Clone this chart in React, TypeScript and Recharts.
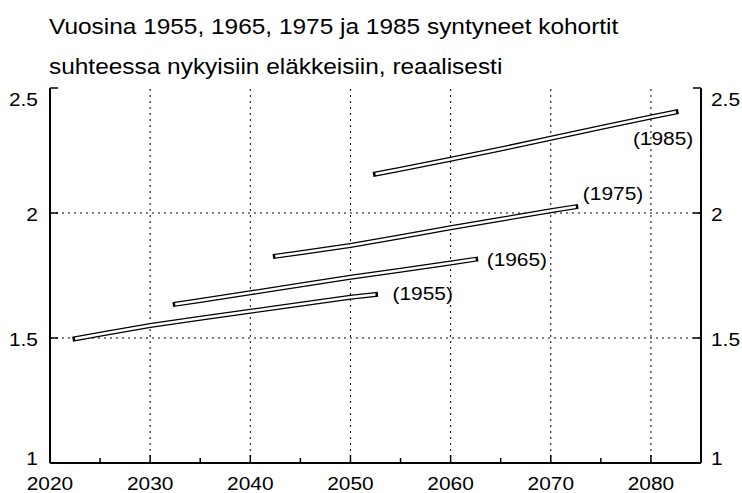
import React from "react";
import { Line, LineChart, ReferenceDot, ReferenceLine, XAxis, YAxis } from "recharts";

// cohort lines: [year, ratio to current pensions]
const cohort1955 = [
  [2022.5, 1.497], [2025, 1.515], [2030, 1.55], [2035, 1.579], [2040, 1.607],
  [2045, 1.635], [2050, 1.663], [2052.5, 1.674],
];
const cohort1965 = [
  [2032.5, 1.635], [2035, 1.65], [2040, 1.681], [2045, 1.712], [2050, 1.743],
  [2055, 1.771], [2060, 1.8], [2062.5, 1.815],
];
const cohort1975 = [
  [2042.5, 1.827], [2045, 1.841], [2050, 1.87], [2055, 1.905], [2060, 1.941],
  [2065, 1.975], [2070, 2.009], [2072.5, 2.025],
];
const cohort1985 = [
  [2052.5, 2.156], [2055, 2.175], [2060, 2.215], [2065, 2.256], [2070, 2.299],
  [2075, 2.342], [2080, 2.384], [2082.5, 2.404],
];

const SERIES = [
  { name: "1955", points: cohort1955 },
  { name: "1965", points: cohort1965 },
  { name: "1975", points: cohort1975 },
  { name: "1985", points: cohort1985 },
];

// label anchors (left edge, vertical centre) in data units
const LABELS = [
  { text: "(1955)", year: 2054.2, value: 1.678 },
  { text: "(1965)", year: 2063.6, value: 1.814 },
  { text: "(1975)", year: 2073.2, value: 2.077 },
  { text: "(1985)", year: 2078.2, value: 2.3 },
];

const X_TICKS = [2020, 2025, 2030, 2035, 2040, 2045, 2050, 2055, 2060, 2065, 2070, 2075, 2080, 2085];
const Y_TICKS = [1, 1.5, 2, 2.5];
const X_GRID = [2030, 2040, 2050, 2060, 2070, 2080];
const Y_GRID = [1.5, 2];

const TITLE = ["Vuosina 1955, 1965, 1975 ja 1985 syntyneet kohortit", "suhteessa nykyisiin eläkkeisiin, reaalisesti"];

const FONT = "'Liberation Sans', Arial, Helvetica, sans-serif";
const W = 742;
const H = 493;
const TOP = 88;
const BOTTOM = 463;
const SX = 1.1; // reference text is a bit stretched horizontally

const toData = (pts: number[][]) => pts.map(([year, v]) => ({ year, v }));

function StretchText({ x, y, anchor, children }: { x: number; y: number; anchor: string; children: React.ReactNode }) {
  return (
    <g transform={`translate(${x},${y}) scale(${SX},1)`}>
      <text x={0} y={0} textAnchor={anchor} dominantBaseline="central" fontSize={19} fontFamily={FONT} fill="#000">
        {children}
      </text>
    </g>
  );
}

function XTick(props: any) {
  const { x, y, payload } = props;
  const major = payload.value % 10 === 0;
  const edge = payload.value === 2020 || payload.value === 2085;
  return (
    <g>
      {!edge && <line x1={x} x2={x} y1={y} y2={y - (major ? 8 : 5)} stroke="#000" strokeWidth={1.5} />}
      {major && <StretchText x={x} y={y + 20} anchor="middle">{payload.value}</StretchText>}
    </g>
  );
}

function clampY(y: number) {
  return Math.min(Math.max(y, TOP + 10), BOTTOM - 6);
}

function LeftTick(props: any) {
  const { x, y, payload } = props;
  return (
    <g>
      <line x1={x} x2={x + 8} y1={y} y2={y} stroke="#000" strokeWidth={1.5} />
      <StretchText x={x - 12} y={clampY(y) + 1} anchor="end">{payload.value}</StretchText>
    </g>
  );
}

function RightTick(props: any) {
  const { x, y, payload } = props;
  return (
    <g>
      <line x1={x} x2={x - 8} y1={y} y2={y} stroke="#000" strokeWidth={1.5} />
      <StretchText x={x + 10} y={clampY(y) + 1} anchor="start">{payload.value}</StretchText>
    </g>
  );
}

function CohortLabel(props: any) {
  const { viewBox, value } = props;
  return <StretchText x={viewBox.x} y={viewBox.y} anchor="start">{value}</StretchText>;
}

export default function App() {
  return (
    <div style={{ position: "absolute", left: 0, top: 0, width: W, height: H, background: "#fff" }}>
      {TITLE.map((t, i) => (
        <div
          key={i}
          style={{
            position: "absolute",
            left: 49,
            top: 14 + i * 40,
            fontFamily: FONT,
            fontSize: 22,
            lineHeight: "26px",
            whiteSpace: "nowrap",
            transform: "scaleX(1.11)",
            transformOrigin: "left center",
            color: "#000",
          }}
        >
          {t}
        </div>
      ))}
      <LineChart width={W} height={H} margin={{ top: TOP, right: 0, bottom: 0, left: 0 }} style={{ position: "absolute", left: 0, top: 0 }}>
        <XAxis
          xAxisId="b"
          dataKey="year"
          type="number"
          domain={[2020, 2085]}
          ticks={X_TICKS}
          tickSize={0}
          tickMargin={0}
          tickLine={false}
          height={30}
          tick={<XTick />}
          axisLine={{ stroke: "#000", strokeWidth: 2 }}
          allowDataOverflow
        />
        <XAxis
          xAxisId="t"
          dataKey="year"
          orientation="top"
          type="number"
          domain={[2020, 2085]}
          height={0}
          tick={false}
          tickLine={false}
          axisLine={{ stroke: "#000", strokeWidth: 2 }}
          allowDataOverflow
        />
        <YAxis
          yAxisId="l"
          type="number"
          domain={[1, 2.5]}
          ticks={Y_TICKS}
          width={50}
          tickSize={0}
          tickMargin={0}
          tickLine={false}
          tick={<LeftTick />}
          axisLine={{ stroke: "#000", strokeWidth: 2 }}
          allowDataOverflow
        />
        <YAxis
          yAxisId="r"
          orientation="right"
          type="number"
          domain={[1, 2.5]}
          ticks={Y_TICKS}
          width={41}
          tickSize={0}
          tickMargin={0}
          tickLine={false}
          tick={<RightTick />}
          axisLine={{ stroke: "#000", strokeWidth: 2 }}
          allowDataOverflow
        />
        {X_GRID.map((g) => (
          <ReferenceLine key={"x" + g} xAxisId="b" yAxisId="l" x={g} stroke="#000" strokeWidth={1} strokeDasharray="2 4" />
        ))}
        {Y_GRID.map((g) => (
          <ReferenceLine key={"y" + g} xAxisId="b" yAxisId="l" y={g} stroke="#000" strokeWidth={1} strokeDasharray="2 4" />
        ))}
        {/* invisible copy so the top / right frame axes get drawn */}
        <Line
          xAxisId="t"
          yAxisId="r"
          data={toData(cohort1955)}
          dataKey="v"
          stroke="none"
          dot={false}
          activeDot={false}
          isAnimationActive={false}
        />
        {SERIES.map((s) => (
          <Line
            key={"o" + s.name}
            xAxisId="b"
            yAxisId="l"
            data={toData(s.points)}
            dataKey="v"
            type="linear"
            stroke="#000"
            strokeWidth={5}
            strokeLinecap="square"
            dot={false}
            activeDot={false}
            isAnimationActive={false}
          />
        ))}
        {SERIES.map((s) => (
          <Line
            key={"i" + s.name}
            xAxisId="b"
            yAxisId="l"
            data={toData(s.points)}
            dataKey="v"
            type="linear"
            stroke="#fff"
            strokeWidth={2.4}
            strokeLinecap="butt"
            dot={false}
            activeDot={false}
            isAnimationActive={false}
          />
        ))}
        {LABELS.map((l) => (
          <ReferenceDot
            key={l.text}
            xAxisId="b"
            yAxisId="l"
            x={l.year}
            y={l.value}
            r={0}
            fill="none"
            stroke="none"
            label={<CohortLabel value={l.text} />}
          />
        ))}
      </LineChart>
    </div>
  );
}
